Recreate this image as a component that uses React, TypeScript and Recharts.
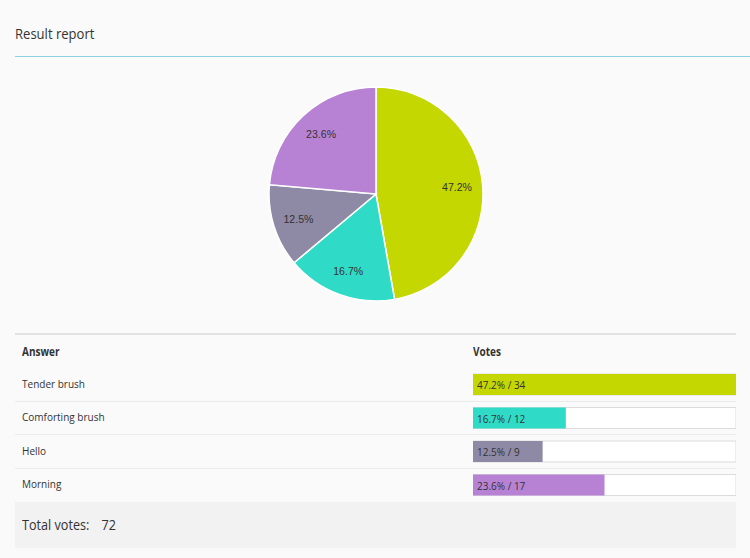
import { PieChart, Pie, Cell, BarChart, Bar, XAxis, YAxis, LabelList } from "recharts";

const ANSWERS = ["Tender brush", "Comforting brush", "Hello", "Morning"];
const VOTES = [34, 12, 9, 17];
const COLORS = ["#c4d700", "#2fdbc6", "#8e89a5", "#b882d4"];

const TOTAL = VOTES.reduce((a, b) => a + b, 0);
const pct = (v: number) => ((v / TOTAL) * 100).toFixed(1) + "%";

const rows = ANSWERS.map((name, i) => ({ name, votes: VOTES[i], pct: pct(VOTES[i]) }));

const FONT = "'Open Sans', sans-serif";
const ROW_TOP = 367.5;
const ROW_H = 33.5;
// the page font runs a little narrow
const NARROW = 0.87;

const RAD = Math.PI / 180;

function Narrow({ children, style }: { children: any; style?: any }) {
  return (
    <div style={{ position: "absolute", whiteSpace: "nowrap", transform: `scaleX(${NARROW})`, transformOrigin: "left center", ...style }}>
      {children}
    </div>
  );
}

function SliceLabel(props: any) {
  const { cx, cy, midAngle, outerRadius, payload } = props;
  const r = outerRadius * 0.76;
  const x = cx + r * Math.cos(-midAngle * RAD);
  const y = cy + r * Math.sin(-midAngle * RAD);
  return (
    <text
      transform={`translate(${x},${y}) scale(0.92,1)`}
      textAnchor="middle"
      dominantBaseline="central"
      fontFamily="'Liberation Sans', Arial, sans-serif"
      fontSize={11.5}
      fill="#333"
    >
      {payload.pct}
    </text>
  );
}

function BarText(props: any) {
  const { x, y, height, index } = props;
  const r = rows[index];
  return (
    <text
      transform={`translate(${x + 4},${y + height / 2}) scale(${NARROW},1)`}
      dominantBaseline="central"
      fontFamily={FONT}
      fontSize={11.5}
      fill="#333"
    >
      {r.pct} / {r.votes}
    </text>
  );
}

export default function App() {
  return (
    <div style={{ position: "fixed", left: 0, top: 0, width: 750, height: 558, background: "#fafafa", fontFamily: FONT, color: "#333", overflow: "hidden" }}>
      <Narrow style={{ left: 15, top: 23, fontSize: 15 }}>Result report</Narrow>
      <div style={{ position: "absolute", left: 15, top: 56, width: 735, height: 1, background: "#8ed1df" }} />

      <div style={{ position: "absolute", left: 226, top: 79, width: 300, height: 230 }}>
        <PieChart width={300} height={230} margin={{ top: 0, right: 0, bottom: 0, left: 0 }}>
          <Pie
            data={rows}
            dataKey="votes"
            nameKey="name"
            cx={150}
            cy={115}
            outerRadius={107}
            startAngle={90}
            endAngle={-270}
            stroke="#fff"
            strokeWidth={1.5}
            label={SliceLabel}
            labelLine={false}
            isAnimationActive={false}
          >
            {rows.map((r, i) => (
              <Cell key={r.name} fill={COLORS[i]} />
            ))}
          </Pie>
        </PieChart>
      </div>

      {/* table */}
      <div style={{ position: "absolute", left: 15, top: 333, width: 721, height: 2, background: "#e2e2e2" }} />
      <Narrow style={{ left: 22, top: 344, fontSize: 11.5, fontWeight: 700 }}>Answer</Narrow>
      <Narrow style={{ left: 473, top: 344, fontSize: 11.5, fontWeight: 700 }}>Votes</Narrow>
      {rows.map((r, i) => (
        <div key={r.name}>
          <Narrow style={{ left: 22, top: ROW_TOP + i * ROW_H + 8, fontSize: 11.5, lineHeight: "16px" }}>{r.name}</Narrow>
          {i < rows.length - 1 && (
            <div style={{ position: "absolute", left: 15, top: Math.floor(ROW_TOP + (i + 1) * ROW_H), width: 721, height: 1, background: "#ebebeb" }} />
          )}
        </div>
      ))}

      <div style={{ position: "absolute", left: 473, top: ROW_TOP, width: 263, height: ROW_H * 4 }}>
        <BarChart width={263} height={ROW_H * 4} data={rows} layout="vertical" margin={{ top: 0, right: 0, bottom: 0, left: 0 }} barSize={21}>
          <XAxis type="number" dataKey="votes" domain={[0, Math.max(...VOTES)]} hide />
          <YAxis type="category" dataKey="name" hide />
          <Bar dataKey="votes" background={{ fill: "#fff", stroke: "#dcdcdc" }} isAnimationActive={false}>
            {rows.map((r, i) => (
              <Cell key={r.name} fill={COLORS[i]} />
            ))}
            <LabelList dataKey="votes" content={BarText} />
          </Bar>
        </BarChart>
      </div>

      <div style={{ position: "absolute", left: 15, top: 502, width: 721, height: 46, background: "#f2f2f2" }}>
        <Narrow style={{ left: 7, top: 13, fontSize: 14.5 }}>
          Total votes:<span style={{ marginLeft: 14 }}>{TOTAL}</span>
        </Narrow>
      </div>
    </div>
  );
}
